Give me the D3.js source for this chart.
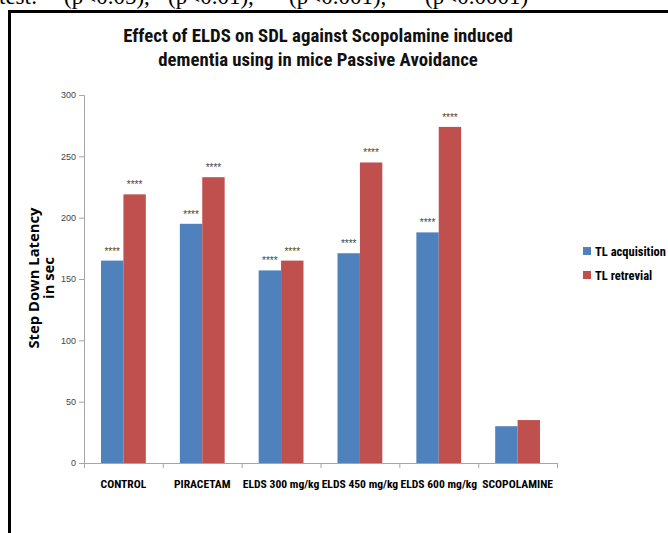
<!DOCTYPE html>
<html>
<head>
<meta charset="utf-8">
<script src="https://cdn.jsdelivr.net/npm/d3@7/dist/d3.min.js"></script>
<style>
  html, body { margin: 0; padding: 0; background: #fff; }
  svg { display: block; }
</style>
</head>
<body>
<svg id="chart" width="668" height="533"></svg>
<script>
// ---- data ----
const categories = ["CONTROL", "PIRACETAM", "ELDS 300 mg/kg", "ELDS 450 mg/kg", "ELDS 600 mg/kg", "SCOPOLAMINE"];
const seriesNames = ["TL acquisition", "TL retrevial"];
const acquisition = [165, 195, 157, 171, 188, 30];
const retrieval   = [219, 233, 165, 245, 274, 35];
const sigAcquisition = ["****", "****", "****", "****", "****", ""];
const sigRetrieval   = ["****", "****", "****", "****", "****", ""];
const yTicks = [0, 50, 100, 150, 200, 250, 300];
const titleLines = ["Effect of ELDS on SDL against Scopolamine induced", "dementia using in mice Passive Avoidance"];
const yLabelLines = ["Step Down Latency", "in sec"];
const noteLead = "test:";
const noteStars = ["*", "**", "***", "****"];
const noteParts = ["(p<0.05),", "(p<0.01),", "(p<0.001),", "(p<0.0001)"];
const colors = ["#4F81BD", "#C0504D"];

const svg = d3.select("#chart");
const narrow = "'Liberation Sans Narrow', 'Arial Narrow', 'Roboto Condensed', 'Liberation Sans', sans-serif";
const serif = "'Liberation Serif', 'DejaVu Serif', serif";

// cropped note at very top (cut off in the original as well)
const noteX = [64, 168, 289, 425];
const note = svg.append("g").attr("font-family", serif).attr("font-size", 23).attr("fill", "#000");
note.append("text").attr("x", -1).attr("y", 3.5).text(noteLead);
note.selectAll("text.part").data(noteParts).join("text")
  .attr("class", "part").attr("x", (d, i) => noteX[i]).attr("y", 3.5).text(d => d);
note.selectAll("text.star").data(noteStars).join("text")
  .attr("class", "star").attr("x", (d, i) => noteX[i] - 2).attr("y", 3.5)
  .attr("text-anchor", "end").attr("font-size", 14).text(d => d);

// frame
svg.append("rect")
  .attr("x", 9.5).attr("y", 11.5)
  .attr("width", 700).attr("height", 600)
  .attr("fill", "none").attr("stroke", "#000").attr("stroke-width", 3);

const plot = { left: 84, right: 557, top: 95, bottom: 463 };

const y = d3.scaleLinear().domain([0, 300]).range([plot.bottom, plot.top]);
const x0 = d3.scaleBand().domain(categories).range([plot.left, plot.right]).padding(0);
const x1 = d3.scaleBand().domain(seriesNames).range([0, x0.bandwidth()]).paddingInner(0).paddingOuter(0.76);

// title
svg.append("g").selectAll("text").data(titleLines).join("text")
  .attr("x", 318).attr("y", (d, i) => 42 + i * 24)
  .attr("text-anchor", "middle")
  .attr("font-family", narrow).attr("font-weight", "bold").attr("font-size", 18.8)
  .attr("fill", "#111")
  .text(d => d);

// y axis label
svg.append("g").selectAll("text").data(yLabelLines).join("text")
  .attr("transform", (d, i) => `translate(${39 + i * 15},278) rotate(-90)`)
  .attr("text-anchor", "middle")
  .attr("font-family", "'Open Sans', 'DejaVu Sans', sans-serif").attr("font-weight", "bold").attr("font-size", 14.8)
  .attr("fill", "#000")
  .text(d => d);

// y axis
const yAxis = svg.append("g").attr("transform", `translate(${plot.left},0)`)
  .call(d3.axisLeft(y).tickValues(yTicks).tickSize(5).tickPadding(3));
yAxis.select(".domain").attr("stroke", "#a6a6a6");
yAxis.selectAll(".tick line").attr("stroke", "#a6a6a6");
yAxis.selectAll(".tick text").attr("font-family", "'Liberation Sans', Arial, sans-serif").attr("font-size", 9).attr("fill", "#444");

// x axis
const xAxis = svg.append("g").attr("transform", `translate(0,${plot.bottom})`)
  .call(d3.axisBottom(x0).tickSize(0).tickPadding(17));
xAxis.select(".domain").attr("stroke", "#a6a6a6");
xAxis.selectAll(".tick text").attr("font-family", narrow).attr("font-weight", "bold").attr("font-size", 11.6).attr("fill", "#000");
// category boundary ticks
const bounds = categories.map(c => x0(c)).concat([x0.range()[1]]);
xAxis.selectAll("line.bound").data(bounds).join("line")
  .attr("class", "bound")
  .attr("x1", d => d + 0.5).attr("x2", d => d + 0.5)
  .attr("y1", 0).attr("y2", 5)
  .attr("stroke", "#a6a6a6");

// bars
const rows = categories.map((c, i) => ({
  cat: c,
  vals: [
    { s: seriesNames[0], v: acquisition[i], sig: sigAcquisition[i], col: colors[0] },
    { s: seriesNames[1], v: retrieval[i], sig: sigRetrieval[i], col: colors[1] }
  ]
}));

const groups = svg.append("g").selectAll("g").data(rows).join("g")
  .attr("transform", d => `translate(${x0(d.cat)},0)`);

groups.selectAll("rect").data(d => d.vals).join("rect")
  .attr("x", d => x1(d.s))
  .attr("y", d => y(d.v))
  .attr("width", x1.bandwidth())
  .attr("height", d => y(0) - y(d.v))
  .attr("fill", d => d.col);

groups.selectAll("text").data(d => d.vals).join("text")
  .attr("x", d => x1(d.s) + x1.bandwidth() / 2)
  .attr("y", d => y(d.v) - 6)
  .attr("text-anchor", "middle")
  .attr("font-family", "'Liberation Sans', Arial, sans-serif").attr("font-size", 10)
  .attr("fill", "#444")
  .text(d => d.sig);

// legend
const legend = svg.append("g").selectAll("g").data(seriesNames).join("g")
  .attr("transform", (d, i) => `translate(583,${247 + i * 24})`);
legend.append("rect").attr("x", 0).attr("y", 0).attr("width", 8).attr("height", 8)
  .attr("fill", (d, i) => colors[i]);
legend.append("text").attr("x", 12).attr("y", 8.5)
  .attr("font-family", narrow).attr("font-weight", "bold").attr("font-size", 12.5)
  .attr("fill", "#000")
  .text(d => d);
</script>
</body>
</html>
